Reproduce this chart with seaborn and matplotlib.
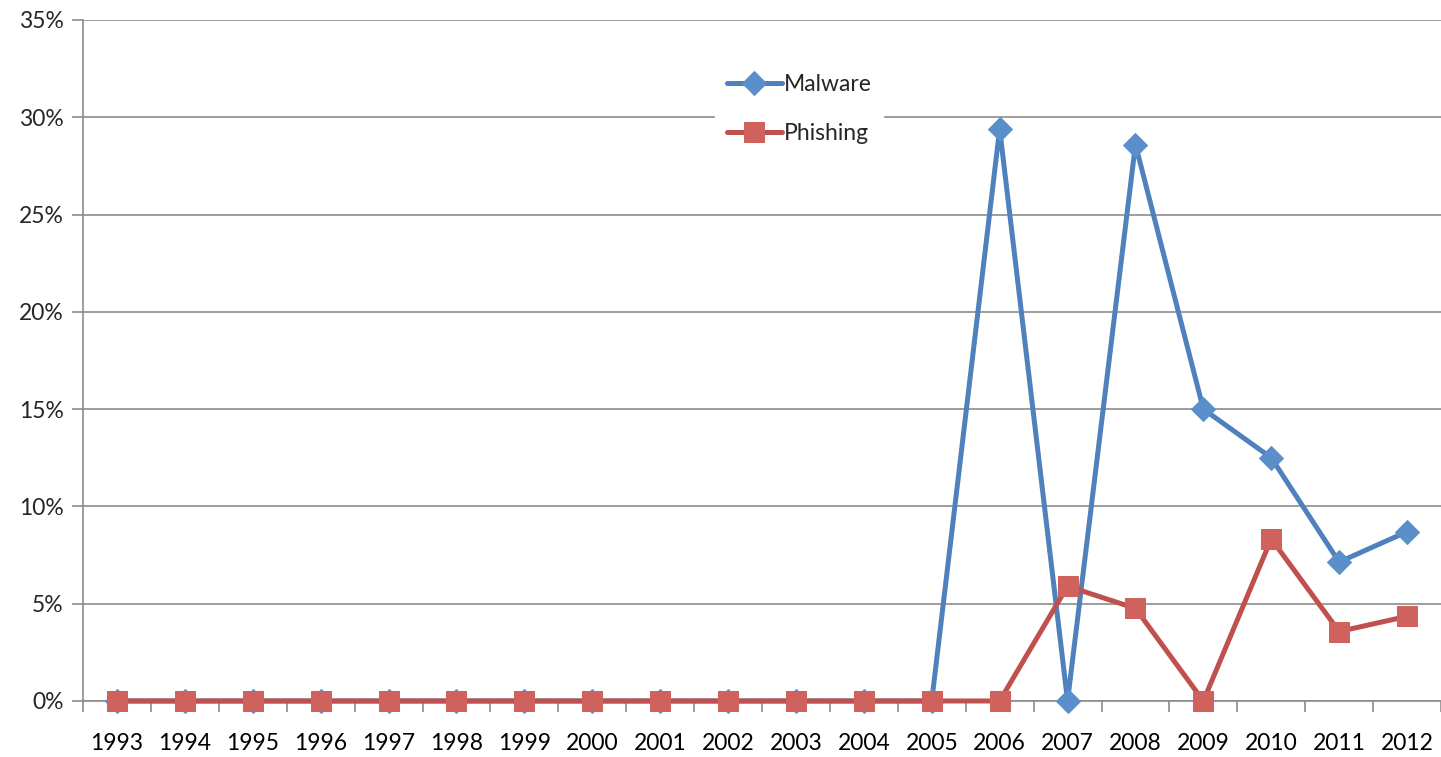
import matplotlib
matplotlib.use("Agg")
import matplotlib.pyplot as plt
import matplotlib.ticker as mticker
import seaborn as sns
import pandas as pd

years = [str(y) for y in range(1993, 2013)]
malware = [0, 0, 0, 0, 0, 0, 0, 0, 0, 0, 0, 0, 0,
           29.4, 0, 28.6, 15.0, 12.5, 7.14, 8.7]
phishing = [0, 0, 0, 0, 0, 0, 0, 0, 0, 0, 0, 0, 0,
            0, 5.9, 4.76, 0, 8.33, 3.57, 4.35]

BLUE = "#4F81BD"
RED = "#C0504D"
BLUE_M = "#5B8FCB"
RED_M = "#CF625C"

sns.set_theme(style="white")
plt.rcParams["font.family"] = ["Lato", "DejaVu Sans"]

df = pd.DataFrame({"idx": range(len(years)), "Malware": malware, "Phishing": phishing})

fig = plt.figure(figsize=(14.41, 7.57), dpi=100)
ax = fig.add_axes([0.0576, 0.074, 0.9424, 0.8996])

sns.lineplot(data=df, x="idx", y="Malware", ax=ax, color=BLUE, lw=3.6,
             marker="D", markersize=12.5, markerfacecolor=BLUE_M,
             markeredgecolor=BLUE_M, label="Malware", zorder=3, clip_on=False)
sns.lineplot(data=df, x="idx", y="Phishing", ax=ax, color=RED, lw=3.6,
             marker="s", markersize=14.5, markerfacecolor=RED_M,
             markeredgecolor=RED_M, label="Phishing", zorder=4, clip_on=False)

ax.set_xlim(-0.5, len(years) - 0.5)
ax.set_ylim(0, 35)
ax.set_yticks(range(0, 36, 5))
ax.yaxis.set_major_formatter(mticker.FuncFormatter(lambda v, p: f"{int(v)}%"))
ax.set_xticks(range(len(years)))
ax.set_xticklabels(years)
ax.set_xticks([i - 0.5 for i in range(len(years) + 1)], minor=True)
ax.set_xlabel("")
ax.set_ylabel("")

ax.grid(axis="y", color="#8C8C8C", lw=1.2, zorder=0)
ax.set_axisbelow(True)
for s in ["top", "right"]:
    ax.spines[s].set_visible(False)
ax.spines["left"].set_color("#8C8C8C")
ax.spines["left"].set_linewidth(1.2)
ax.spines["bottom"].set_color("#8C8C8C")
ax.spines["bottom"].set_linewidth(1.2)

ax.tick_params(axis="x", which="major", length=0, labelsize=16.5, pad=23, colors="black")
ax.tick_params(axis="x", which="minor", length=8, width=1.2, color="#8C8C8C", direction="out", bottom=True)
ax.tick_params(axis="y", which="major", length=8, width=1.2, color="#8C8C8C", direction="out", left=True, labelsize=16.5, pad=6)

leg = ax.legend(loc="upper left", bbox_to_anchor=(0.457, 0.955), frameon=True,
                facecolor="white", edgecolor="white", framealpha=1.0,
                fontsize=16.5, handlelength=2.4, handletextpad=0.1,
                labelspacing=1.25, borderpad=0.5)

fig.savefig("out.png", dpi=100)
